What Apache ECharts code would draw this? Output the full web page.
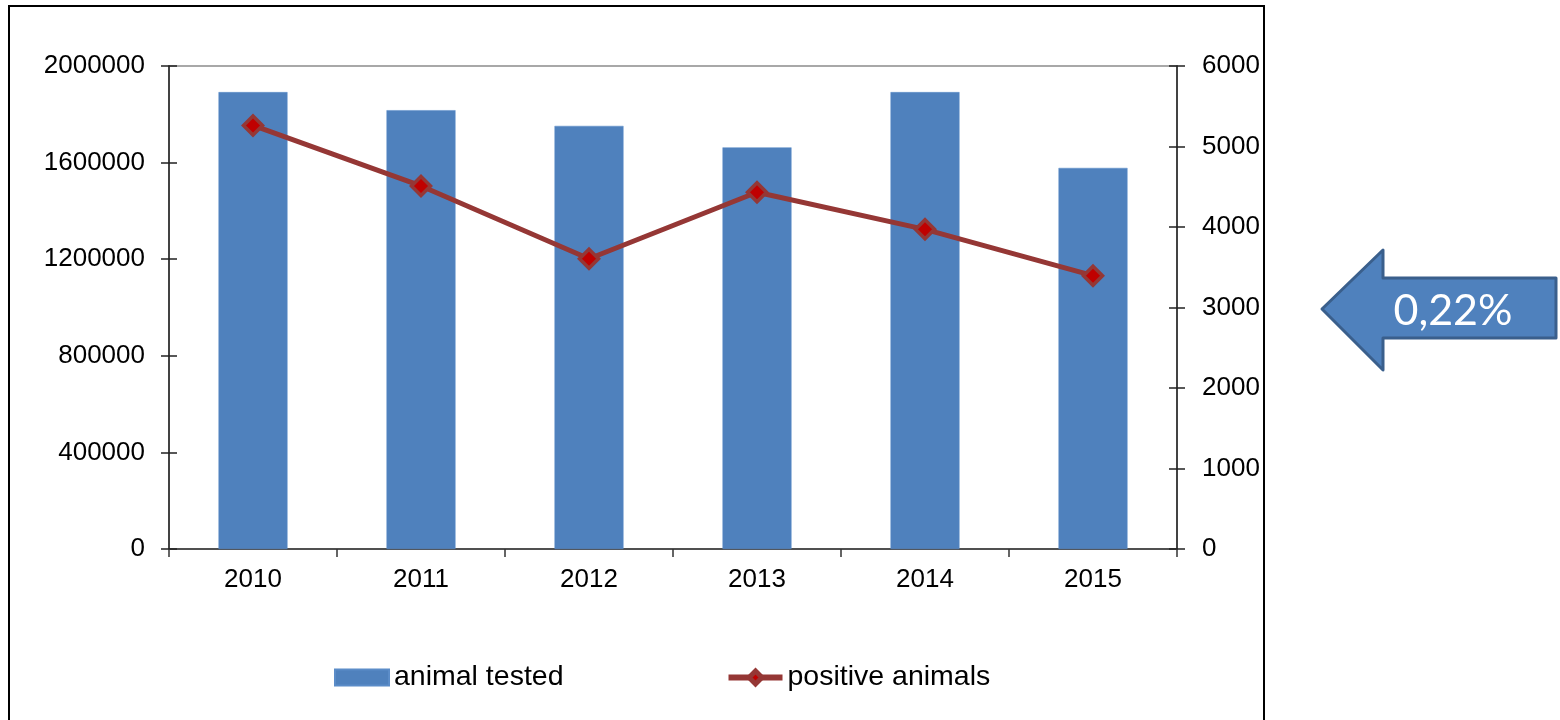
<!DOCTYPE html>
<html>
<head>
<meta charset="utf-8">
<script src="https://cdn.jsdelivr.net/npm/echarts@6/dist/echarts.min.js"></script>
<style>html,body{margin:0;padding:0;background:#fff}#c{width:1560px;height:720px}</style>
</head>
<body>
<div id="c"></div>
<script>
const years = ['2010', '2011', '2012', '2013', '2014', '2015'];
const animalsTested = [1892000, 1817000, 1752000, 1663000, 1892000, 1578000];
const positiveAnimals = [5262, 4510, 3606, 4432, 3971, 3395];
const leftTicks = [0, 400000, 800000, 1200000, 1600000, 2000000];
const rightTicks = [0, 1000, 2000, 3000, 4000, 5000, 6000];
const arrowLabel = '0,22%';

const font = 'Liberation Sans, Arial, sans-serif';
const chart = echarts.init(document.getElementById('c'));
const leftMax = leftTicks[leftTicks.length - 1];
const leftInt = leftTicks[1] - leftTicks[0];
const rightMax = rightTicks[rightTicks.length - 1];
const rightInt = rightTicks[1] - rightTicks[0];
const plain = v => String(v);

chart.setOption({
  animation: false,
  backgroundColor: '#fff',
  textStyle: { fontFamily: font },
  grid: { left: 169, right: 383, top: 66, bottom: 171, show: true, borderColor: '#8c8c8c', borderWidth: 1.5, backgroundColor: 'transparent' },
  legend: {
    left: 329, top: 658,
    itemWidth: 54, itemHeight: 16, itemGap: 162,
    textStyle: { fontSize: 28.5, color: '#000', fontFamily: font },
    data: [
      { name: 'animal tested', icon: 'rect' },
      { name: 'positive animals', lineStyle: { width: 6, color: '#953735' }, itemStyle: { color: '#C00000', borderColor: '#953735', borderWidth: 5 } }
    ]
  },
  xAxis: {
    type: 'category', data: years,
    axisLine: { lineStyle: { color: '#333', width: 1.5 } },
    axisTick: { show: true, length: 8, alignWithLabel: false, lineStyle: { color: '#333', width: 1.5 } },
    axisLabel: { fontSize: 26, color: '#000', margin: 18 }
  },
  yAxis: [
    { type: 'value', position: 'left', min: 0, max: leftMax, interval: leftInt,
      axisLine: { show: true, lineStyle: { color: '#222', width: 1.5 } },
      axisTick: { show: true, length: 8, lineStyle: { color: '#222', width: 1.5 } },
      axisLabel: { fontSize: 26, color: '#000', margin: 24, formatter: plain },
      splitLine: { show: false } },
    { type: 'value', position: 'right', min: 0, max: rightMax, interval: rightInt,
      axisLine: { show: true, lineStyle: { color: '#222', width: 1.5 } },
      axisTick: { show: true, length: 8, lineStyle: { color: '#222', width: 1.5 } },
      axisLabel: { fontSize: 26, color: '#000', margin: 25, formatter: plain },
      splitLine: { show: false } },
    { type: 'value', position: 'left', min: 0, max: leftMax, interval: leftInt,
      axisLine: { show: false }, axisLabel: { show: false }, splitLine: { show: false },
      axisTick: { show: true, inside: true, length: 8, lineStyle: { color: '#222', width: 1.5 } } },
    { type: 'value', position: 'right', min: 0, max: rightMax, interval: rightInt,
      axisLine: { show: false }, axisLabel: { show: false }, splitLine: { show: false },
      axisTick: { show: true, inside: true, length: 8, lineStyle: { color: '#222', width: 1.5 } } }
  ],
  series: [
    { name: 'animal tested', type: 'bar', yAxisIndex: 0, data: animalsTested, barWidth: 69,
      itemStyle: { color: '#4F81BD', borderColor: '#5b8cc8', borderWidth: 0.5 } },
    { name: 'positive animals', type: 'line', yAxisIndex: 1, data: positiveAnimals,
      symbol: 'diamond', symbolSize: 19,
      lineStyle: { color: '#953735', width: 5 },
      itemStyle: { color: '#C00000', borderColor: '#953735', borderWidth: 3.5 } }
  ],
  graphic: [
    { type: 'rect', shape: { x: 9, y: 6, width: 1255, height: 730 },
      style: { fill: 'none', stroke: '#000', lineWidth: 2 } },
    { type: 'polygon', shape: { points: [[1322, 309], [1383, 250], [1383, 278], [1556, 278], [1556, 338], [1383, 338], [1383, 370]] },
      style: { fill: '#4F81BD', stroke: '#3A5F8C', lineWidth: 3, lineJoin: 'round' } },
    { type: 'text', x: 1453, y: 311,
      style: { text: arrowLabel, fill: '#fff', font: '43px Lato, "Open Sans", sans-serif', textAlign: 'center', textVerticalAlign: 'middle' } }
  ]
});
</script>
</body>
</html>
